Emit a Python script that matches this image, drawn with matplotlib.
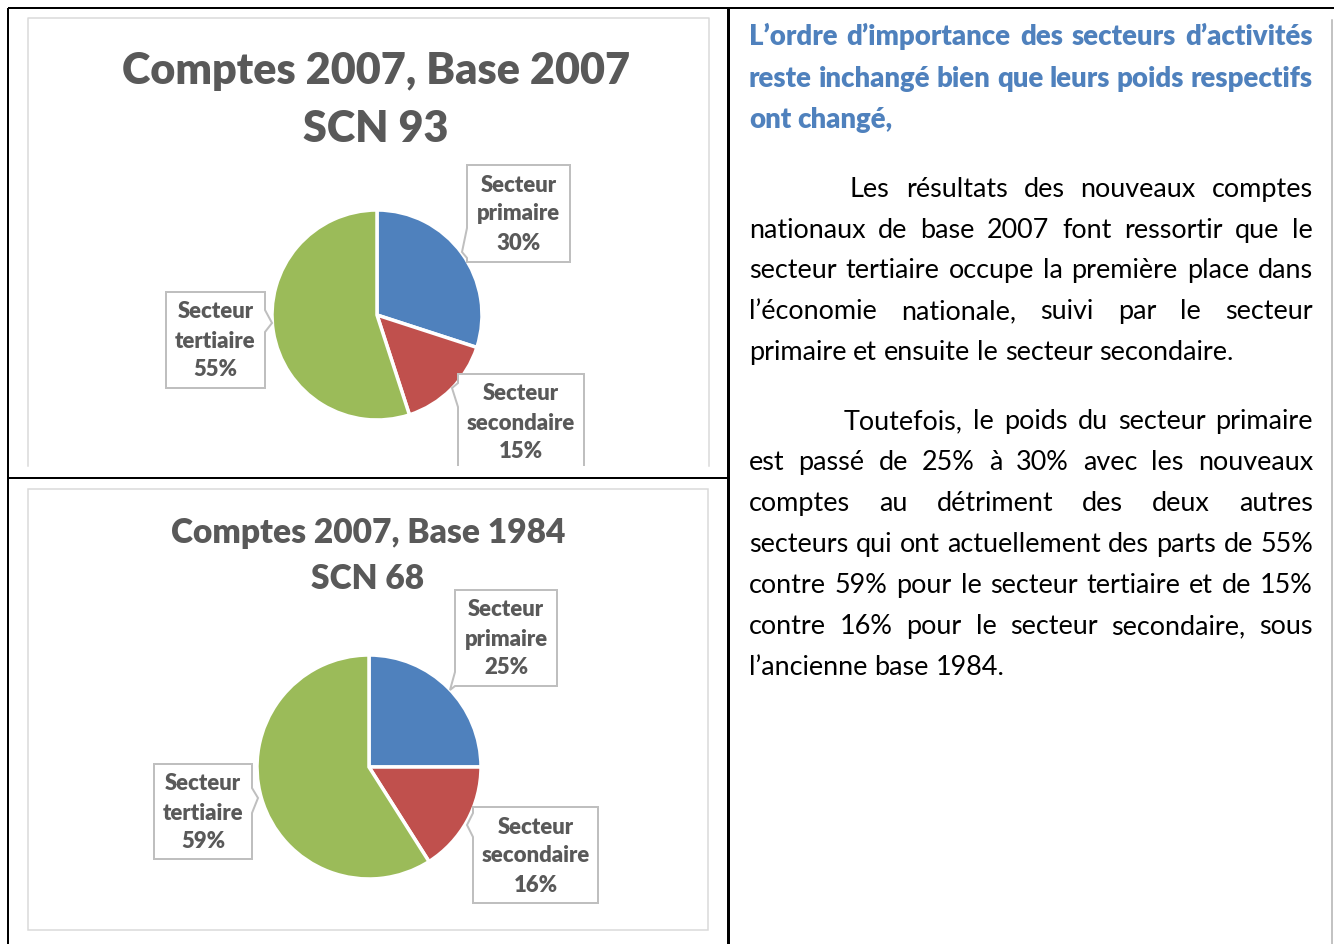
import matplotlib
matplotlib.use("Agg")
import matplotlib.pyplot as plt
from matplotlib.patches import Polygon, Rectangle

# ---------------- data ----------------
sectors = ["Secteur primaire", "Secteur secondaire", "Secteur tertiaire"]
values_2007 = [30, 15, 55]
values_1984 = [25, 16, 59]
colors = ["#4F81BD", "#C0504D", "#9BBB59"]
title_2007 = ["Comptes 2007, Base 2007", "SCN 93"]
title_1984 = ["Comptes 2007, Base 1984", "SCN 68"]

heading_lines = [
    "L’ordre d’importance des secteurs d’activités",
    "reste inchangé bien que leurs poids respectifs",
    "ont changé,",
]
para1_lines = [
    "Les résultats des nouveaux comptes",
    "nationaux de base 2007 font ressortir que le",
    "secteur tertiaire occupe la première place dans",
    "l’économie nationale, suivi par le secteur",
    "primaire et ensuite le secteur secondaire.",
]
para2_lines = [
    "Toutefois, le poids du secteur primaire",
    "est passé de 25% à 30% avec les nouveaux",
    "comptes au détriment des deux autres",
    "secteurs qui ont actuellement des parts de 55%",
    "contre 59% pour le secteur tertiaire et de 15%",
    "contre 16% pour le secteur secondaire, sous",
    "l’ancienne base 1984.",
]

FONT = ["Lato", "DejaVu Sans"]
GRAY = "#595959"
BOXC = "#BFBFBF"
BOLD = "heavy"

W, H = 1334, 944
fig = plt.figure(figsize=(W / 100, H / 100), dpi=100)
ax = fig.add_axes([0, 0, 1, 1])
renderer = fig.canvas.get_renderer()


def setlim():
    ax.set_xlim(0, W)
    ax.set_ylim(H, 0)
    ax.set_aspect("auto")
    ax.axis("off")


setlim()


def text_w(s, size, weight="normal"):
    t = ax.text(0, 0, s, fontsize=size, fontweight=weight, family=FONT)
    w = t.get_window_extent(renderer).width
    t.remove()
    return w


def fit(s, target, weight="normal", base=20.0):
    return base * target / text_w(s, base, weight)


def px(p):
    return p * 72 / 100


# ---------------- table borders ----------------
lw_b = px(2)
ax.plot([8, 8], [8, H], color="black", lw=lw_b, solid_capstyle="butt")
ax.plot([8, W], [8, 8], color="black", lw=lw_b, solid_capstyle="butt")
ax.plot([728, 728], [8, H], color="black", lw=px(3), solid_capstyle="butt")
ax.plot([8, 728], [478, 478], color="black", lw=lw_b, solid_capstyle="butt")
ax.plot([1332, 1332], [20, H], color="#B0B0B0", lw=px(1.5))

# ---------------- chart frames ----------------
fc = "#D9D9D9"
ax.plot([28, 28, 709, 709], [466, 18, 18, 466], color=fc, lw=px(1.5))
ax.add_patch(Rectangle((28, 489), 680, 441, fill=False, edgecolor=fc, lw=px(1.5)))

clip1 = Rectangle((28, 18), 681, 448, transform=ax.transData)

# ---------------- titles ----------------
s1 = fit(title_2007[0], 508, BOLD)
ax.text(376, 71, title_2007[0], fontsize=s1, fontweight=BOLD, family=FONT,
        color=GRAY, ha="center", va="center")
ax.text(376, 129, title_2007[1], fontsize=s1, fontweight=BOLD, family=FONT,
        color=GRAY, ha="center", va="center")
s2 = fit(title_1984[0], 394, BOLD)
ax.text(368, 533, title_1984[0], fontsize=s2, fontweight=BOLD, family=FONT,
        color=GRAY, ha="center", va="center")
ax.text(368, 579, title_1984[1], fontsize=s2, fontweight=BOLD, family=FONT,
        color=GRAY, ha="center", va="center")

# ---------------- pies ----------------
wp = dict(edgecolor="white", linewidth=px(3.5))
ax.pie(values_2007, colors=colors, startangle=-90, counterclock=True,
       center=(377, 315), radius=105, wedgeprops=wp)
ax.pie(values_1984, colors=colors, startangle=-90, counterclock=True,
       center=(369, 767), radius=112, wedgeprops=wp)
setlim()

# ---------------- callouts ----------------
lab_size = fit("secondaire", 109, BOLD)


def callout(x0, y0, x1, y1, side, a, tip, b, value, label, clip=None):
    # side: 'left' or 'right'; a, b = y positions on side; tip = (x,y)
    if side == "left":
        pts = [(x0, y0), (x1, y0), (x1, y1), (x0, y1), (x0, b), tip, (x0, a)]
    else:
        pts = [(x0, y0), (x1, y0), (x1, a), tip, (x1, b), (x1, y1), (x0, y1)]
    poly = Polygon(pts, closed=True, facecolor="white", edgecolor=BOXC,
                   lw=px(2), zorder=5)
    ax.add_patch(poly)
    if clip is not None:
        poly.set_clip_path(clip)
    words = label.split(" ")
    lines = [words[0], words[1], f"{value}%"]
    cx = (x0 + x1) / 2
    lh = 29
    ys = [y0 + 20 + i * lh for i in range(3)]
    for s, yy in zip(lines, ys):
        ax.text(cx, yy, s, fontsize=lab_size, fontweight=BOLD, family=FONT,
                color=GRAY, ha="center", va="center", zorder=6)


# chart 2007
callout(467, 165, 570, 262, "left", 228, (462, 252), 258,
        values_2007[0], sectors[0])
callout(458, 374, 584, 480, "left", 383, (452, 388), 407,
        values_2007[1], sectors[1], clip=clip1)
callout(166, 292, 265, 388, "right", 310, (272, 323), 332,
        values_2007[2], sectors[2])

# chart 1984
callout(455, 590, 557, 686, "left", 672, (450, 690), 686,
        values_1984[0], sectors[0])
callout(473, 807, 598, 903, "left", 813, (467, 825), 837,
        values_1984[1], sectors[1])
callout(154, 764, 252, 859, "right", 788, (258, 798), 813,
        values_1984[2], sectors[2])

# ---------------- right text ----------------
XL, XR = 749, 1313
head_size = fit(heading_lines[1], XR - XL, BOLD)
body_size = fit(para2_lines[3], XR - XL, "normal")


def justify(line, x0, x1, y, size, weight, color, full=True):
    words = line.split(" ")
    widths = [text_w(w, size, weight) for w in words]
    if full and len(words) > 1:
        gap = (x1 - x0 - sum(widths)) / (len(words) - 1)
    else:
        gap = text_w("x x", size, weight) - 2 * text_w("x", size, weight)
    x = x0
    for w, ww in zip(words, widths):
        ax.text(x, y, w, fontsize=size, fontweight=weight, family=FONT,
                color=color, ha="left", va="baseline")
        x += ww + gap


BLUE = "#4F81BD"
head_y = [45, 87, 128]
for i, (ln, yy) in enumerate(zip(heading_lines, head_y)):
    justify(ln, XL, XR, yy, head_size, BOLD, BLUE, full=i < len(heading_lines) - 1)

p1_y = [197, 238, 278, 319, 360]
for i, (ln, yy) in enumerate(zip(para1_lines, p1_y)):
    x0 = 850 if i == 0 else XL
    justify(ln, x0, XR, yy, body_size, "normal", "black", full=i < len(para1_lines) - 1)

p2_y = [429, 470, 511, 552, 593, 634, 675]
for i, (ln, yy) in enumerate(zip(para2_lines, p2_y)):
    x0 = 844 if i == 0 else XL
    justify(ln, x0, XR, yy, body_size, "normal", "black", full=i < len(para2_lines) - 1)

fig.savefig("out.png", dpi=100, facecolor="white")
